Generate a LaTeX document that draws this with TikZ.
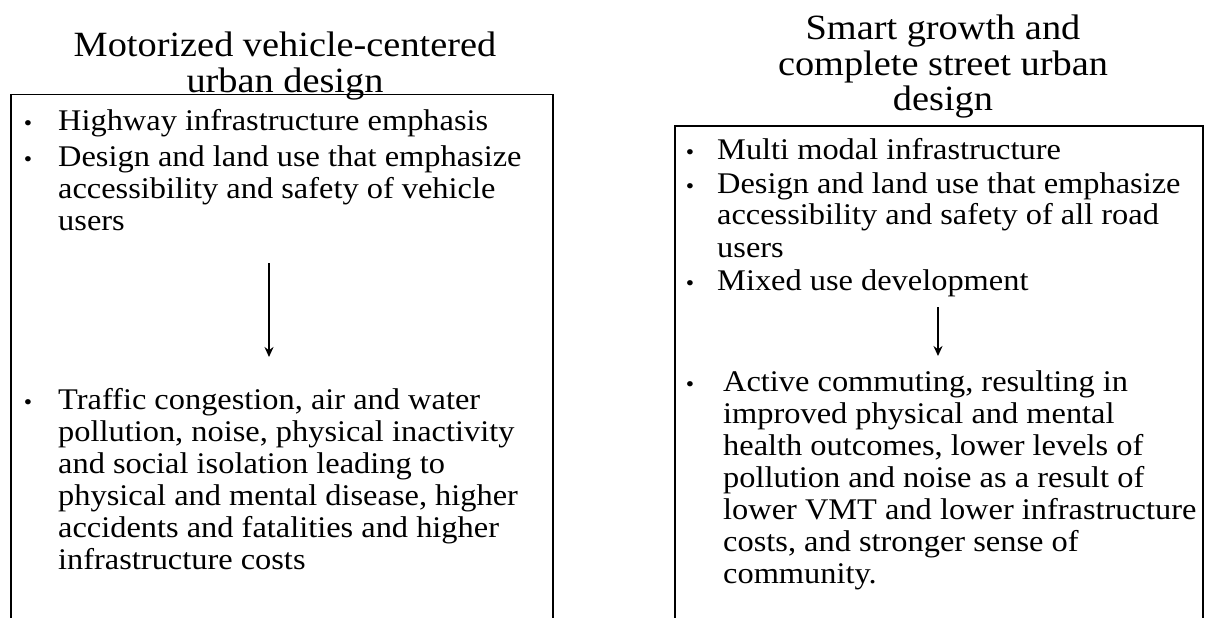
\documentclass[tikz,border=0pt]{standalone}
\usepackage{fontspec}
\setmainfont{Liberation Serif}[FakeStretch=1.08]
\usetikzlibrary{arrows.meta}
\newcommand{\bodytext}[1]{\parbox[t]{560pt}{\raggedright #1}}
\newcommand{\titletext}[1]{\parbox[t]{560pt}{\centering #1}}
\begin{document}
\begin{tikzpicture}[x=1pt,y=-1pt,
  title/.style={anchor=base,inner sep=0pt,font=\fontsize{35.5}{35.5}\selectfont},
  body/.style={anchor=base west,inner sep=0pt,font=\fontsize{30}{32}\selectfont},
  bul/.style={anchor=base,inner sep=0pt,font=\fontsize{22}{32}\selectfont},
  panel/.style={draw,line width=1.5pt,inner sep=0pt,anchor=north west},
  flow/.style={-{Stealth[length=10pt,width=9pt]},line width=2pt}]
\useasboundingbox (0,0) rectangle (1211,618);
% left panel
\node[title] (lt) at (285,57) {\titletext{Motorized vehicle-centered\\urban design}};
\node[panel,minimum width=542pt,minimum height=560pt] (lbox) at (10,94) {};
\node[bul] (lb1) at (28,131) {\textbullet};
\node[body] (l1) at (58,131) {\bodytext{Highway infrastructure emphasis}};
\node[bul] (lb2) at (28,166) {\textbullet};
\node[body] (l2) at (58,166) {\bodytext{Design and land use that emphasize\\accessibility and safety of vehicle\\users}};
\node[bul] (lb3) at (28,409) {\textbullet};
\node[body] (l3) at (58,409) {\bodytext{Traffic congestion, air and water\\pollution, noise, physical inactivity\\and social isolation leading to\\physical and mental disease, higher\\accidents and fatalities and higher\\infrastructure costs}};
\coordinate (la1) at (269,263);
\coordinate (la2) at (269,357);
\draw[flow] (la1) -- (la2);
% right panel
\node[title] (rt) at (943,40) {\titletext{Smart growth and\\complete street urban\\design}};
\node[panel,minimum width=528pt,minimum height=530pt] (rbox) at (674,125) {};
\node[bul] (rb1) at (690,159) {\textbullet};
\node[body] (r1) at (717,159) {\bodytext{Multi modal infrastructure}};
\node[bul] (rb2) at (690,193) {\textbullet};
\node[body] (r2) at (717,193) {\bodytext{Design and land use that emphasize\\accessibility and safety of all road\\users}};
\node[bul] (rb3) at (690,290) {\textbullet};
\node[body] (r3) at (717,290) {\bodytext{Mixed use development}};
\node[bul] (rb4) at (690,391) {\textbullet};
\node[body] (r4) at (723,391) {\bodytext{Active commuting, resulting in\\improved physical and mental\\health outcomes, lower levels of\\pollution and noise as a result of\\lower VMT and lower infrastructure\\costs, and stronger sense of\\community.}};
\coordinate (ra1) at (938,307);
\coordinate (ra2) at (938,356);
\draw[flow] (ra1) -- (ra2);
\end{tikzpicture}
\end{document}
